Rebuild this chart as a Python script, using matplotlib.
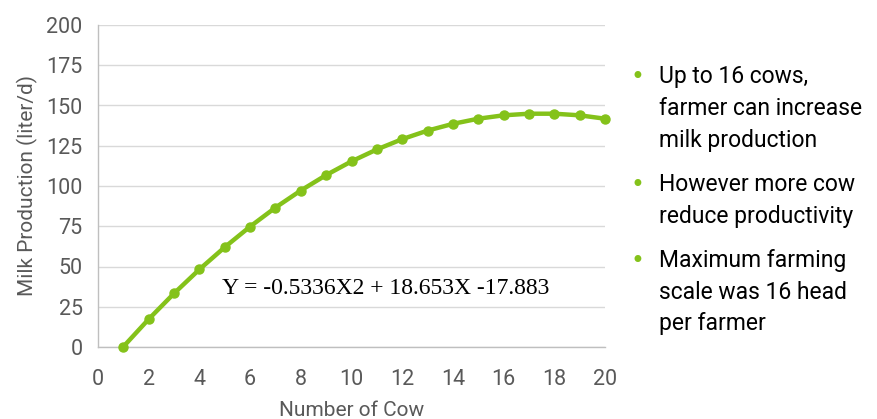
import matplotlib
matplotlib.use("Agg")
import matplotlib.pyplot as plt
from matplotlib import font_manager

cows = [1, 2, 3, 4, 5, 6, 7, 8, 9, 10, 11, 12, 13, 14, 15, 16, 17, 18, 19, 20]
milk = [0.2, 17.3, 33.3, 48.2, 62.0, 74.8, 86.6, 97.2, 106.8, 115.3,
        122.7, 129.1, 134.4, 138.6, 141.8, 143.9, 144.9, 144.9, 143.9, 141.8]
yticks = [0, 25, 50, 75, 100, 125, 150, 175, 200]
xticks = [0, 2, 4, 6, 8, 10, 12, 14, 16, 18, 20]
equation = "Y = -0.5336X2 + 18.653X -17.883"
bullets = [
    ["Up to 16 cows,", "farmer can increase", "milk production"],
    ["However more cow", "reduce productivity"],
    ["Maximum farming", "scale was 16 head", "per farmer"],
]

names = {f.name for f in font_manager.fontManager.ttflist}
sans = "Liberation Sans Narrow" if "Liberation Sans Narrow" in names else "Roboto"

green = "#84C21A"
gray = "#595959"

fig = plt.figure(figsize=(8.78, 4.19), dpi=100)
ax = fig.add_axes([98/878, 1 - 347/419, (605-98)/878, (347-25)/419])
ax.plot(cows, milk, color=green, lw=3.2, marker="o", ms=6.5, zorder=3, clip_on=False)
ax.set_xlim(0, 20)
ax.set_ylim(0, 200)
ax.set_xticks(xticks)
ax.set_yticks(yticks)
ax.tick_params(axis="y", length=0, labelsize=15.5, labelcolor=gray, pad=11)
ax.tick_params(axis="x", length=0, labelsize=15.5, labelcolor=gray, pad=16)
for lab in ax.get_xticklabels() + ax.get_yticklabels():
    lab.set_fontfamily(sans)
ax.grid(axis="y", color="#D9D9D9", lw=1)
ax.set_axisbelow(True)
for s in ["top", "right"]:
    ax.spines[s].set_visible(False)
for s in ["left", "bottom"]:
    ax.spines[s].set_color("#BFBFBF")
    ax.spines[s].set_linewidth(1)
ax.set_xlabel("Number of Cow", fontsize=15, color=gray, family=sans, labelpad=8)
ax.set_ylabel("Milk Production (liter/d)", fontsize=15, color=gray, family=sans, labelpad=6)

ax.text(222/878, 1 - 288/419, equation, transform=fig.transFigure, fontsize=17,
        family="Liberation Serif", color="black", va="center", ha="left")

line_h = 31.5
y = 77
for group in bullets:
    fig.text(637/878, 1 - y/419, "\u2022", fontsize=17, color=green, va="center", ha="center", family="DejaVu Sans")
    for i, ln in enumerate(group):
        fig.text(659/878, 1 - (y + i*line_h)/419, ln, fontsize=16.5, family=sans,
                 color="black", va="center", ha="left")
    y += len(group)*line_h + 13

fig.savefig("out.png", dpi=100)
